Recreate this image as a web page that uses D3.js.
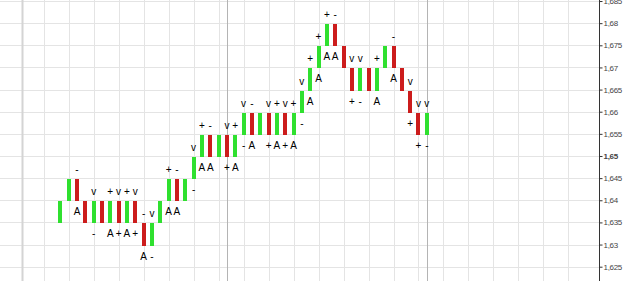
<!DOCTYPE html>
<html>
<head>
<meta charset="utf-8">
<script src="https://cdn.jsdelivr.net/npm/d3@7"></script>
<style>
  body { margin: 0; background: #fff; }
  svg { display: block; }
</style>
</head>
<body>
<svg></svg>
<script>
// Chart size
var width = 625, height = 281, axisX = 599;

// Brick data: lower price of each brick and its direction (U = up/green, D = down/red)
var brickSize = 0.005;
var brickLow = [1.635, 1.640, 1.640, 1.635, 1.635, 1.635, 1.635, 1.635, 1.635, 1.635,
                1.630, 1.630, 1.635, 1.640, 1.640, 1.640, 1.645, 1.650, 1.650, 1.650,
                1.650, 1.650, 1.655, 1.655, 1.655, 1.655, 1.655, 1.655, 1.655, 1.660,
                1.665, 1.670, 1.675, 1.675, 1.670, 1.665, 1.665, 1.665, 1.665, 1.670,
                1.670, 1.665, 1.660, 1.655, 1.655];
var brickDir = ["U", "U", "D", "D", "U", "D", "U", "D", "U", "D",
                "D", "U", "U", "U", "D", "U", "U", "U", "D", "U",
                "D", "U", "U", "D", "U", "D", "U", "D", "U", "U",
                "U", "U", "U", "D", "D", "D", "U", "D", "U", "U",
                "D", "D", "D", "D", "U"];

// Marker letters above and below each brick
var labelAbove = ["", "", "-", "", "v", "", "+", "v", "+", "v",
                  "-", "v", "", "+", "-", "", "v", "+", "-", "",
                  "v", "+", "v", "-", "", "v", "+", "v", "+", "v",
                  "+", "+", "+", "-", "", "v", "v", "", "+", "",
                  "-", "", "v", "v", "v"];
var labelBelow = ["", "", "A", "", "-", "", "A", "+", "A", "+",
                  "A", "-", "", "A", "A", "", "-", "A", "A", "",
                  "+", "A", "-", "A", "", "+", "A", "+", "A", "-",
                  "A", "A", "A", "A", "", "+", "-", "", "A", "",
                  "A", "", "+", "+", "-"];

// Session separators (in column units) and price ticks
var separators = [-4.6, 20, 44];
var priceTicks = [1.625, 1.63, 1.635, 1.64, 1.645, 1.65, 1.655, 1.66, 1.665, 1.67, 1.675, 1.68, 1.685];
var boldTick = 1.65;

var svg = d3.select("svg")
    .attr("width", width)
    .attr("height", height);

svg.append("rect")
    .attr("width", width)
    .attr("height", height)
    .attr("fill", "#fff");

// Scales
var x = d3.scaleLinear()
    .domain([-7.24, 64.67])
    .range([0, axisX]);

var y = d3.scaleLinear()
    .domain([1.62177, 1.68523])
    .range([height, 0]);

var locale = d3.formatLocale({decimal: ",", thousands: ".", grouping: [3], currency: ["", ""]});
var fmt = locale.format(".3~f");

// Horizontal grid
svg.append("g")
    .selectAll("line")
    .data(priceTicks)
    .enter()
    .append("line")
    .attr("x1", 0)
    .attr("x2", axisX)
    .attr("y1", d => Math.round(y(d)) + 0.5)
    .attr("y2", d => Math.round(y(d)) + 0.5)
    .attr("stroke", "#e4e4e4");

// Vertical grid every 3 columns
var gridCols = d3.range(-2, 64, 3);
svg.append("g")
    .selectAll("line")
    .data(gridCols)
    .enter()
    .append("line")
    .attr("x1", d => Math.round(x(d)) + 0.5)
    .attr("x2", d => Math.round(x(d)) + 0.5)
    .attr("y1", 0)
    .attr("y2", height)
    .attr("stroke", "#e4e4e4");

// Separators
svg.append("g")
    .selectAll("line")
    .data(separators)
    .enter()
    .append("line")
    .attr("x1", d => Math.round(x(d)) + 0.5)
    .attr("x2", d => Math.round(x(d)) + 0.5)
    .attr("y1", 0)
    .attr("y2", height)
    .attr("stroke", (d, i) => i === 0 ? "#d4d4d4" : "#b4b4b4")
    .attr("stroke-width", (d, i) => i === 0 ? 2 : 1);

// Bricks
var bricks = brickLow.map((lo, i) => ({i: i, lo: lo, hi: lo + brickSize, dir: brickDir[i],
                                       above: labelAbove[i], below: labelBelow[i]}));

svg.append("g")
    .selectAll("rect")
    .data(bricks)
    .enter()
    .append("rect")
    .attr("x", d => Math.round(x(d.i)) - 2)
    .attr("y", d => Math.round(y(d.hi)) + 1)
    .attr("width", 4)
    .attr("height", d => Math.round(y(d.lo)) - Math.round(y(d.hi)))
    .attr("fill", d => d.dir === "U" ? "#2fe02f" : "#cc1c1c");

// Marker letters
var labels = svg.append("g")
    .attr("font-family", "'Liberation Sans', Arial, sans-serif")
    .attr("font-size", "10px")
    .attr("fill", "#000")
    .attr("text-anchor", "middle");

labels.selectAll("text.above")
    .data(bricks.filter(d => d.above))
    .enter()
    .append("text")
    .attr("class", "above")
    .attr("x", d => x(d.i))
    .attr("y", d => y(d.hi) - 5)
    .text(d => d.above);

labels.selectAll("text.below")
    .data(bricks.filter(d => d.below))
    .enter()
    .append("text")
    .attr("class", "below")
    .attr("x", d => x(d.i))
    .attr("y", d => y(d.lo) + 15)
    .text(d => d.below);

// Right price axis
var yAxis = svg.append("g")
    .attr("transform", `translate(${axisX + 0.5},0)`)
    .call(d3.axisRight(y).tickValues(priceTicks).tickFormat(fmt).tickSize(3).tickPadding(1));

yAxis.select(".domain")
    .attr("stroke", "#333")
    .attr("d", `M0,0V${height}`);
yAxis.selectAll(".tick line").attr("stroke", "#333");
yAxis.selectAll(".tick text")
    .attr("font-family", "'Liberation Sans', Arial, sans-serif")
    .attr("font-size", "8px")
    .attr("fill", "#444")
    .attr("font-weight", d => d === boldTick ? "bold" : "normal")
    .style("letter-spacing", "-0.3px");
</script>
</body>
</html>
